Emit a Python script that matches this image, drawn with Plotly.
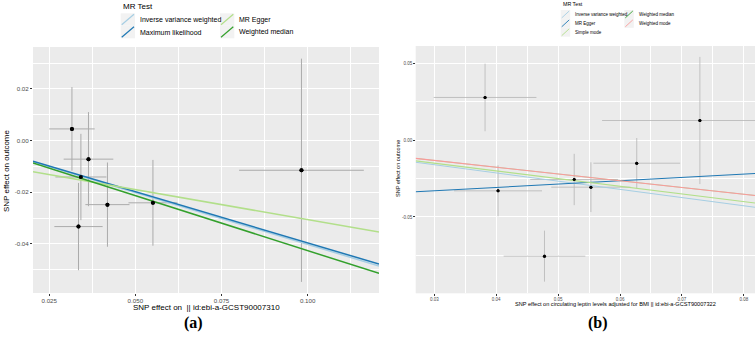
import plotly.graph_objects as go

W, H = 755, 338

# ---------------- Panel (a) data ----------------
a_methods = ["Inverse variance weighted", "Maximum likelihood", "MR Egger", "Weighted median"]
a_colors = ["#A6CEE3", "#1F78B4", "#B2DF8A", "#33A02C"]
a_slope = [-0.402, -0.396, -0.232, -0.426]
a_intercept = [0.0, 0.0, -0.0074, 0.0]
a_snp_x = [0.0316, 0.0364, 0.0342, 0.0335, 0.0419, 0.0551, 0.0982]
a_snp_x_se = [0.0066, 0.0072, 0.0074, 0.0070, 0.0064, 0.0071, 0.0181]
a_snp_y = [0.0045, -0.0072, -0.0141, -0.0333, -0.0248, -0.0241, -0.0115]
a_snp_y_se = [0.0162, 0.0182, 0.0167, 0.0169, 0.0163, 0.0166, 0.0432]
a_xticks = [0.025, 0.050, 0.075, 0.100]
a_xticklabels = ["0.025", "0.050", "0.075", "0.100"]
a_yticks = [0.02, 0.00, -0.02, -0.04]
a_yticklabels = ["0.02", "0.00", "-0.02", "-0.04"]
a_xtitle = "SNP effect on  || id:ebi-a-GCST90007310"

# ---------------- Panel (b) data ----------------
b_methods = ["Inverse variance weighted", "MR Egger", "Simple mode", "Weighted median", "Weighted mode"]
b_colors = ["#A6CEE3", "#1F78B4", "#B2DF8A", "#33A02C", "#FB9A99"]
b_slope = [-0.534, 0.218, -0.500, -0.440, -0.440]
b_intercept = [0.0, -0.0395, 0.0, 0.0, 0.0]
b_snp_x = [0.0382, 0.0403, 0.0478, 0.0526, 0.0553, 0.0627, 0.0729]
b_snp_x_se = [0.0083, 0.0071, 0.0066, 0.0071, 0.0064, 0.0070, 0.0158]
b_snp_y = [0.0278, -0.0330, -0.0755, -0.0256, -0.0306, -0.0150, 0.0128]
b_snp_y_se = [0.0220, 0.0166, 0.0166, 0.0167, 0.0162, 0.0164, 0.0414]
b_xticks = [0.03, 0.04, 0.05, 0.06, 0.07, 0.08]
b_xticklabels = ["0.03", "0.04", "0.05", "0.06", "0.07", "0.08"]
b_yticks = [0.05, 0.00, -0.05]
b_yticklabels = ["0.05", "0.00", "-0.05"]
b_xtitle = "SNP effect on circulating leptin levels adjusted for BMI || id:ebi-a-GCST90007322"

ytitle = "SNP effect on outcome"
legend_title = "MR Test"
panel_labels = ["(a)", "(b)"]

A_XR = [0.0203, 0.1207]
A_YR = [-0.059, 0.0362]
B_XR = [0.0270, 0.0818]
B_YR = [-0.0997, 0.0613]

FONT = "Liberation Sans, Arial, sans-serif"


def px(x):
    return x / W


def py(y):
    return 1 - y / H


fig = go.Figure()

# ---- panel (a) traces ----
fig.add_trace(go.Scatter(x=a_snp_x, y=a_snp_y, mode="markers",
                         marker=dict(color="black", size=4),
                         error_x=dict(type="data", array=a_snp_x_se, color="#ABABAB", thickness=1, width=0),
                         error_y=dict(type="data", array=a_snp_y_se, color="#ABABAB", thickness=1, width=0),
                         showlegend=False, xaxis="x", yaxis="y"))
for m, c, s, b in zip(a_methods, a_colors, a_slope, a_intercept):
    fig.add_trace(go.Scatter(x=A_XR, y=[b + s * A_XR[0], b + s * A_XR[1]], mode="lines",
                             line=dict(color=c, width=1.5), name=m, showlegend=False,
                             xaxis="x", yaxis="y"))
fig.add_trace(go.Scatter(x=a_snp_x, y=a_snp_y, mode="markers",
                         marker=dict(color="black", size=4), showlegend=False,
                         xaxis="x", yaxis="y"))

# ---- panel (b) traces ----
fig.add_trace(go.Scatter(x=b_snp_x, y=b_snp_y, mode="markers",
                         marker=dict(color="black", size=3),
                         error_x=dict(type="data", array=b_snp_x_se, color="#B5B5B5", thickness=0.8, width=0),
                         error_y=dict(type="data", array=b_snp_y_se, color="#B5B5B5", thickness=0.8, width=0),
                         showlegend=False, xaxis="x2", yaxis="y2"))
for m, c, s, b in zip(b_methods, b_colors, b_slope, b_intercept):
    lw = 0.3 if m == "Weighted median" else 1.1
    fig.add_trace(go.Scatter(x=B_XR, y=[b + s * B_XR[0], b + s * B_XR[1]], mode="lines",
                             line=dict(color=c, width=lw), name=m, showlegend=False,
                             xaxis="x2", yaxis="y2"))
fig.add_trace(go.Scatter(x=b_snp_x, y=b_snp_y, mode="markers",
                         marker=dict(color="black", size=3), showlegend=False,
                         xaxis="x2", yaxis="y2"))


def axis(domain, rng, ticks, labels, minor_dtick, fsize, anchor, tlen):
    return dict(domain=domain, range=rng, tickmode="array", tickvals=ticks, ticktext=labels,
                showgrid=True, gridcolor="white", gridwidth=1, zeroline=False, showline=False,
                ticks="outside", ticklen=tlen, tickwidth=1, tickcolor="#333333",
                tickfont=dict(family=FONT, size=fsize, color="#4D4D4D"),
                minor=dict(dtick=minor_dtick, tick0=0, showgrid=True, gridcolor="white",
                           gridwidth=0.5, ticks=""),
                anchor=anchor, fixedrange=True)


fig.update_layout(
    width=W, height=H, margin=dict(l=0, r=0, t=0, b=0),
    paper_bgcolor="white", plot_bgcolor="#EBEBEB", showlegend=False,
    xaxis=axis([px(33), px(379)], A_XR, a_xticks, a_xticklabels, 0.0125, 6.2, "y", 1.5),
    yaxis=axis([py(293), py(47)], A_YR, a_yticks, a_yticklabels, 0.01, 6.2, "x", 2),
    xaxis2=axis([px(415.7), px(755)], B_XR, b_xticks, b_xticklabels, 0.005, 4.5, "y2", 1.5),
    yaxis2=axis([py(293.3), py(46)], B_YR, b_yticks, b_yticklabels, 0.025, 4.5, "x2", 1.5),
)

annotations = []
shapes = []


def label(text, x, y, size, angle=0, family=FONT):
    annotations.append(dict(text=text, x=px(x), y=py(y), xref="paper", yref="paper",
                            xanchor="center", yanchor="middle", textangle=angle,
                            showarrow=False, font=dict(family=family, size=size, color="black")))


# axis titles
label(a_xtitle, 206, 307.5, 8)
label(ytitle, 6, 171, 8, -90)
label(b_xtitle, 615, 303.8, 5.6)
label(ytitle, 398, 169, 5.6, -90)

# panel labels
for lab, xc in zip(panel_labels, [193, 598]):
    label("<b>" + lab + "</b>", xc, 323, 16, family="Liberation Serif, Times New Roman, serif")


def legend(methods, colors, nrow, x0, title_y, row0, key_w, key_h, col_dx, tsize, fsize, lw):
    annotations.append(dict(text=legend_title, x=px(x0), y=py(title_y), xref="paper", yref="paper",
                            xanchor="left", yanchor="middle", showarrow=False,
                            font=dict(family=FONT, size=tsize, color="black")))
    for i, (m, c) in enumerate(zip(methods, colors)):
        col, row = divmod(i, nrow)
        kx = x0 + col * col_dx
        ky = row0 + row * key_h
        shapes.append(dict(type="rect", xref="paper", yref="paper",
                           x0=px(kx), x1=px(kx + key_w), y0=py(ky + key_h), y1=py(ky),
                           fillcolor="#F2F2F2", line=dict(width=0)))
        shapes.append(dict(type="line", xref="paper", yref="paper",
                           x0=px(kx + 1), x1=px(kx + key_w - 1), y0=py(ky + key_h - 1), y1=py(ky + 1),
                           line=dict(color=c, width=lw)))
        annotations.append(dict(text=m, x=px(kx + key_w + 3), y=py(ky + key_h / 2),
                                xref="paper", yref="paper", xanchor="left", yanchor="middle",
                                showarrow=False, font=dict(family=FONT, size=fsize, color="black")))


legend(a_methods, a_colors, 2, 120.7, 6.5, 13.3, 14.3, 12.5, 99.3, 8, 7, 1.2)
legend(b_methods, b_colors, 3, 560.7, 4.2, 10, 9.5, 8.9, 63.6, 5.3, 4.5, 0.9)

fig.update_layout(annotations=annotations, shapes=shapes)

fig.write_html("out.html", config={"displayModeBar": False},
               post_script="document.body.style.margin='0';")
